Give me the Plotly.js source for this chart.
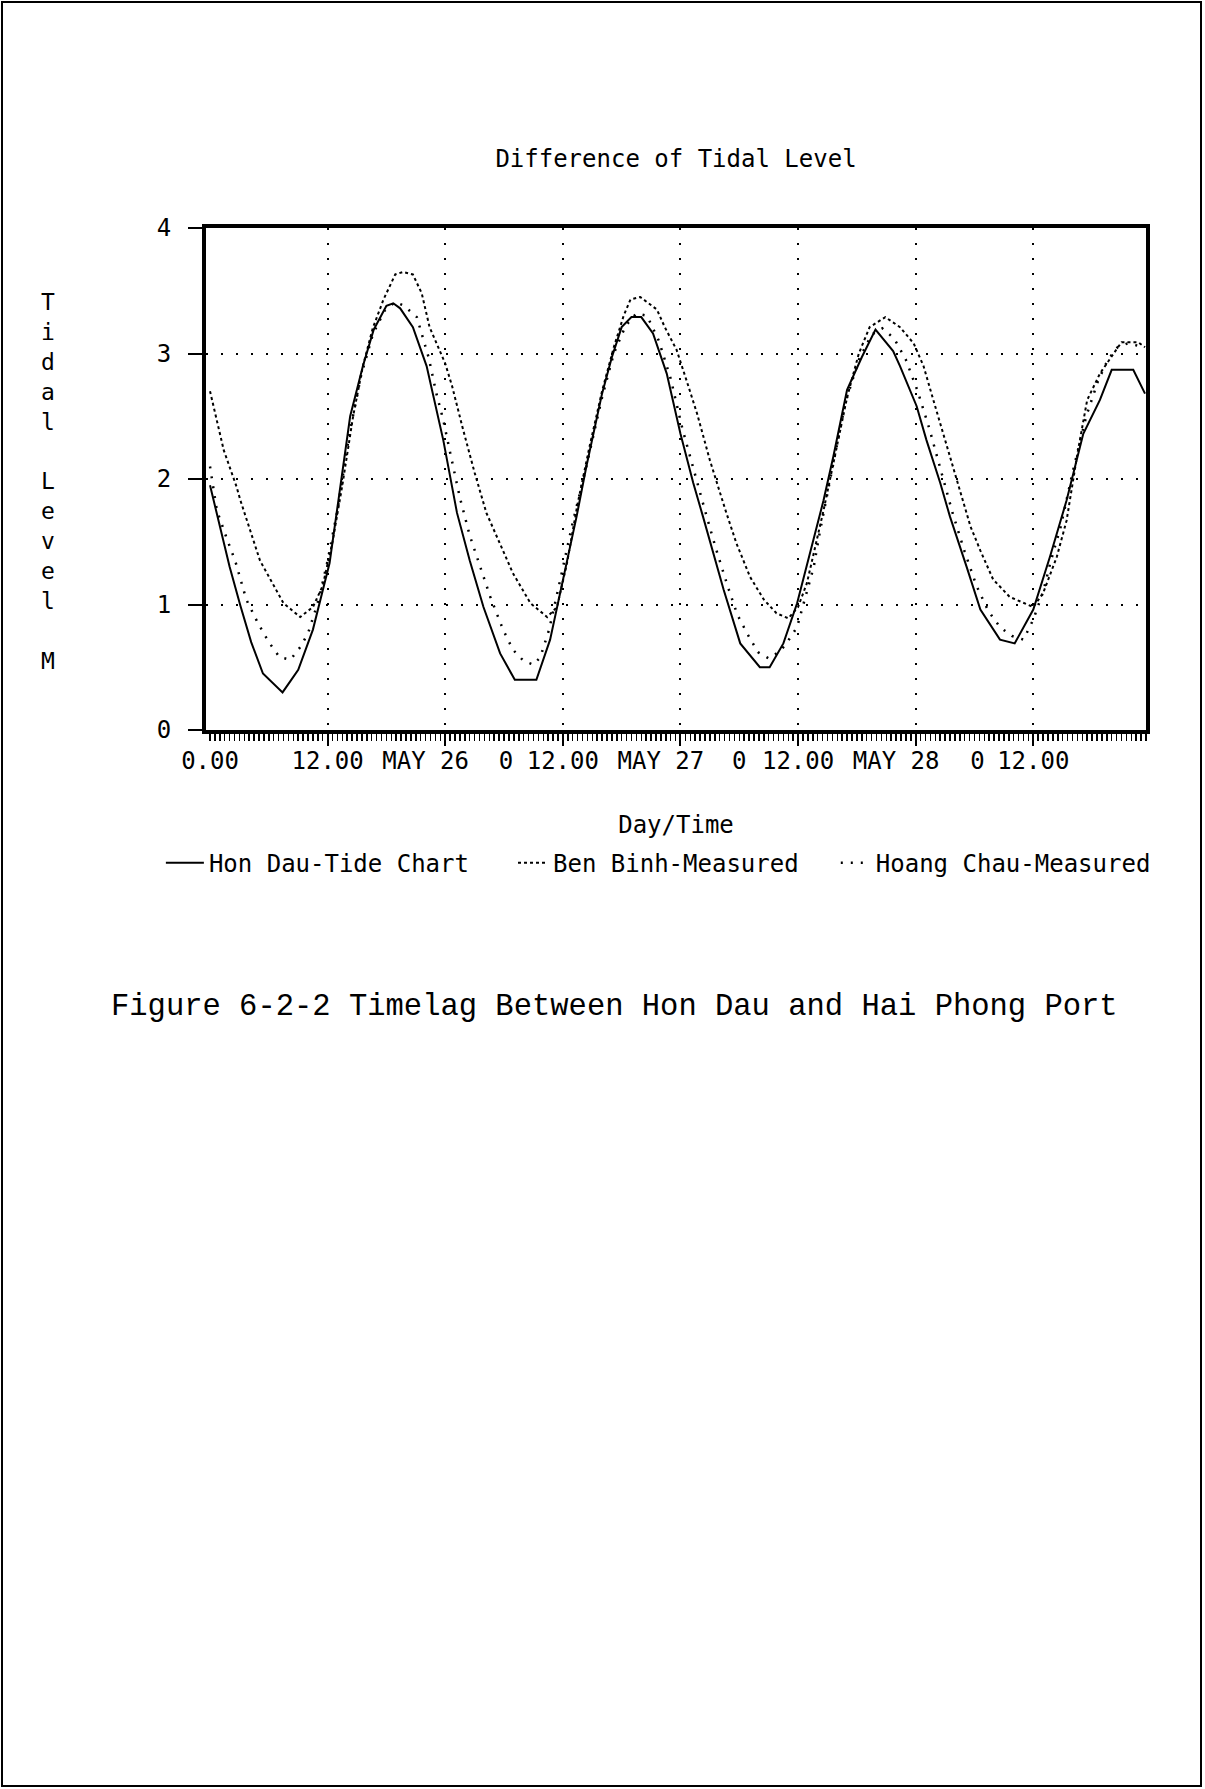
<!DOCTYPE html>
<html><head><meta charset="utf-8">
<script src="https://cdn.plot.ly/plotly-3.0.1.min.js"></script>
<style>
html,body{margin:0;padding:0;background:#fff;}
#wrap{position:relative;width:1205px;height:1789px;overflow:hidden;}
#chart{position:absolute;left:0;top:0;width:1205px;height:1789px;}
#border{position:absolute;left:1px;top:1px;width:1201px;height:1786px;border:2px solid #000;box-sizing:border-box;pointer-events:none;}
</style></head>
<body><div id="wrap"><div id="chart"></div><div id="border"></div></div>
<script>
// Hours since 0:00 of the first day (May 25) and tidal level (m)
const honDauHours = [0, 1, 2, 3.1, 4.2, 5.4, 6.5, 7.4, 8.2, 9.0, 10.5, 12.2, 13.1, 14.3, 15.6, 16.7, 18.0, 18.7, 19.4, 20.7, 22.1, 23.8, 25.2, 26.5, 27.9, 29.6, 31.1, 33.3, 34.7, 36.0, 37.4, 38.4, 40.0, 41.0, 42.0, 43.0, 44.0, 45.2, 46.6, 48.0, 49.3, 50.3, 52.4, 54.1, 56.1, 57.1, 58.5, 59.9, 61.6, 62.6, 63.6, 65.0, 66.5, 67.9, 69.7, 70.4, 72.1, 73.1, 74.5, 75.5, 77.2, 78.6, 80.6, 82.1, 84.0, 85.7, 87.4, 89.1, 90.8, 92.0, 94.2, 95.4];
const honDauLevel = [1.95, 1.62, 1.30, 0.99, 0.70, 0.45, 0.37, 0.30, 0.39, 0.48, 0.80, 1.33, 1.83, 2.50, 2.90, 3.19, 3.38, 3.40, 3.36, 3.21, 2.90, 2.31, 1.73, 1.35, 0.98, 0.61, 0.40, 0.40, 0.72, 1.20, 1.70, 2.10, 2.68, 2.97, 3.21, 3.29, 3.29, 3.16, 2.84, 2.36, 1.97, 1.70, 1.12, 0.69, 0.50, 0.50, 0.69, 1.01, 1.52, 1.83, 2.18, 2.71, 2.97, 3.19, 3.02, 2.90, 2.58, 2.31, 1.97, 1.70, 1.30, 0.96, 0.72, 0.69, 0.96, 1.38, 1.83, 2.36, 2.63, 2.87, 2.87, 2.68];

const benBinhHours = [0, 1.4, 2.7, 3.1, 5.1, 7.5, 9.2, 10.5, 11.5, 12.5, 13.5, 14.6, 15.6, 16.6, 17.7, 18.9, 19.7, 20.7, 21.6, 22.4, 24.0, 24.7, 25.8, 27.0, 28.2, 29.9, 30.9, 32.7, 34.4, 35.4, 36.4, 37.5, 38.7, 40.0, 41.2, 42.2, 42.9, 43.9, 45.6, 46.4, 47.6, 48.6, 49.7, 51.0, 52.0, 52.6, 53.7, 55.1, 56.5, 57.8, 59.0, 60.0, 60.9, 61.9, 62.6, 63.8, 65.0, 66.2, 67.3, 68.9, 70.4, 71.8, 72.8, 73.8, 75.2, 76.5, 77.6, 78.6, 79.9, 81.6, 83.0, 84.0, 85.0, 86.4, 87.4, 88.5, 89.5, 90.8, 92.2, 93.0, 94.7, 95.4];
const benBinhLevel = [2.70, 2.23, 1.94, 1.83, 1.35, 1.01, 0.90, 0.98, 1.15, 1.50, 1.95, 2.50, 2.90, 3.20, 3.43, 3.63, 3.65, 3.63, 3.48, 3.21, 2.92, 2.74, 2.40, 2.05, 1.73, 1.43, 1.25, 1.01, 0.90, 0.98, 1.32, 1.80, 2.25, 2.70, 3.05, 3.30, 3.43, 3.45, 3.35, 3.21, 3.03, 2.79, 2.52, 2.15, 1.89, 1.75, 1.49, 1.22, 1.04, 0.93, 0.89, 0.98, 1.17, 1.51, 1.75, 2.20, 2.65, 3.00, 3.21, 3.29, 3.21, 3.08, 2.90, 2.63, 2.26, 1.91, 1.62, 1.43, 1.20, 1.06, 1.01, 0.98, 1.09, 1.38, 1.67, 2.20, 2.63, 2.84, 3.00, 3.09, 3.09, 3.05];

const hoangChauHours = [0, 0.7, 1.6, 2.6, 3.7, 4.9, 6.0, 7.1, 8.2, 9.2, 10.0, 11.1, 12.0, 13.0, 14.2, 15.4, 16.6, 17.8, 18.9, 19.8, 21.1, 22.3, 23.1, 23.8, 24.5, 25.5, 26.5, 27.9, 28.6, 29.9, 30.9, 32.0, 33.0, 33.7, 34.6, 35.6, 37.0, 38.4, 40.0, 41.2, 42.4, 43.5, 44.6, 45.8, 47.0, 48.2, 49.4, 50.5, 51.6, 52.8, 53.8, 54.8, 55.9, 57.0, 58.2, 58.9, 59.9, 60.9, 61.6, 62.2, 63.4, 64.8, 66.2, 67.5, 68.6, 69.8, 71.0, 72.2, 73.4, 74.6, 75.8, 77.0, 78.2, 79.4, 80.6, 81.8, 83.0, 84.0, 85.0, 85.8, 86.8, 88.0, 89.4, 90.6, 91.6, 92.6, 93.6, 95.4];
const hoangChauLevel = [2.10, 1.75, 1.55, 1.34, 1.04, 0.85, 0.70, 0.58, 0.56, 0.66, 0.77, 1.04, 1.35, 1.75, 2.35, 2.82, 3.15, 3.34, 3.41, 3.38, 3.29, 2.97, 2.68, 2.47, 2.21, 1.85, 1.55, 1.22, 1.06, 0.80, 0.64, 0.55, 0.52, 0.58, 0.80, 1.15, 1.65, 2.10, 2.65, 3.00, 3.22, 3.32, 3.30, 3.10, 2.80, 2.40, 2.05, 1.75, 1.45, 1.15, 0.92, 0.77, 0.62, 0.57, 0.63, 0.70, 0.82, 1.09, 1.30, 1.57, 2.05, 2.60, 2.95, 3.15, 3.20, 3.12, 2.95, 2.70, 2.40, 2.05, 1.72, 1.42, 1.15, 0.95, 0.82, 0.75, 0.72, 0.88, 1.10, 1.35, 1.62, 2.05, 2.50, 2.78, 2.95, 3.05, 3.08, 3.05];

const seriesNames = ["Hon Dau-Tide Chart", "Ben Binh-Measured", "Hoang Chau-Measured"];

// Tick labels as printed along the time axis
const timeLabelHours = [0, 12, 22, 30.2, 36, 46, 54, 60, 70, 78.3, 84];
const timeLabelTexts = ["0.00", "12.00", "MAY 26", "0", "12.00", "MAY 27", "0", "12.00", "MAY 28", "0", "12.00"];
const gridHours = [12, 24, 36, 48, 60, 72, 84];
const levelTicks = [0, 1, 2, 3, 4];
const levelTickTexts = ["0", "1", "2", "3", "4"];

const FONT = "DejaVu Sans Mono, monospace";
const xRange = [-0.41, 95.5];

const traces = [
  {x: honDauHours, y: honDauLevel, name: seriesNames[0], mode: "lines", legend: "legend",
   line: {color: "#000", width: 2}},
  {x: benBinhHours, y: benBinhLevel, name: seriesNames[1], mode: "lines", legend: "legend2",
   line: {color: "#000", width: 2, dash: "3px,3px"}},
  {x: hoangChauHours, y: hoangChauLevel, name: seriesNames[2], mode: "lines", legend: "legend3",
   xaxis: "x2", yaxis: "y",
   line: {color: "#000", width: 2.5, dash: "2px,8px"}}
];

const legendBase = {orientation: "h", xanchor: "left", yanchor: "middle", y: -0.265,
  bgcolor: "rgba(0,0,0,0)", borderwidth: 0, font: {family: FONT, size: 24, color: "#000"}};

const layout = {
  width: 1205, height: 1789,
  margin: {l: 206, r: 59, t: 228, b: 1059, pad: 0},
  paper_bgcolor: "#fff", plot_bgcolor: "#fff",
  font: {family: FONT, size: 24, color: "#000"},
  title: {text: "Difference of Tidal Level", x: 0.5, xref: "paper", xanchor: "center",
          y: 1 - 159 / 1789, yref: "container", yanchor: "middle",
          font: {family: FONT, size: 24, color: "#000"}},
  showlegend: true,
  legend: Object.assign({}, legendBase, {x: -0.048, itemwidth: 38}),
  legend2: Object.assign({}, legendBase, {x: 0.3266}),
  legend3: Object.assign({}, legendBase, {x: 0.670}),
  xaxis: {
    range: xRange, tickmode: "array", tickvals: gridHours,
    ticks: "outside", ticklen: 12, tickwidth: 2, tickcolor: "#000",
    showticklabels: false,
    showgrid: true, gridcolor: "#000", gridwidth: 2, griddash: "2px,13px",
    showline: true, linecolor: "#000", linewidth: 4, mirror: true, zeroline: false,
    minor: {tickmode: "linear", tick0: 0, dtick: 0.5, ticks: "outside", ticklen: 7, tickwidth: 1.5, tickcolor: "#000", showgrid: false},
    title: {text: "Day/Time", standoff: 72, font: {family: FONT, size: 24, color: "#000"}},
    automargin: false, fixedrange: true
  },
  xaxis2: {
    overlaying: "x", anchor: "y", side: "bottom", range: xRange,
    tickmode: "array", tickvals: timeLabelHours, ticktext: timeLabelTexts,
    ticks: "", showgrid: false, showline: false, zeroline: false,
    ticklabelstandoff: 14, tickfont: {family: FONT, size: 24, color: "#000"},
    automargin: false, fixedrange: true
  },
  yaxis: {
    range: [0, 4], tickmode: "array", tickvals: levelTicks, ticktext: levelTickTexts,
    ticks: "outside", ticklen: 14, tickwidth: 2, tickcolor: "#000",
    showgrid: true, gridcolor: "#000", gridwidth: 2, griddash: "2px,13px",
    showline: true, linecolor: "#000", linewidth: 4, mirror: true, zeroline: false,
    ticklabelstandoff: 12, tickfont: {family: FONT, size: 24, color: "#000"},
    automargin: false, fixedrange: true
  },
  annotations: [
    {text: "T<br>i<br>d<br>a<br>l<br>\u00a0<br>L<br>e<br>v<br>e<br>l<br>\u00a0<br>M",
     xref: "paper", yref: "paper", x: (48 - 206) / 940, y: 0.496, xanchor: "center", yanchor: "middle",
     showarrow: false, font: {family: FONT, size: 23, color: "#000"}},
    {text: "Figure 6-2-2 Timelag Between Hon Dau and Hai Phong Port",
     xref: "paper", yref: "paper", x: (614 - 206) / 940, y: (730 - 1007) / 502, xanchor: "center", yanchor: "middle",
     showarrow: false, font: {family: "Liberation Mono, Courier New, monospace", size: 30.5, color: "#000"}}
  ]
};

Plotly.newPlot("chart", traces, layout, {staticPlot: true, displayModeBar: false});
</script>
</body></html>
